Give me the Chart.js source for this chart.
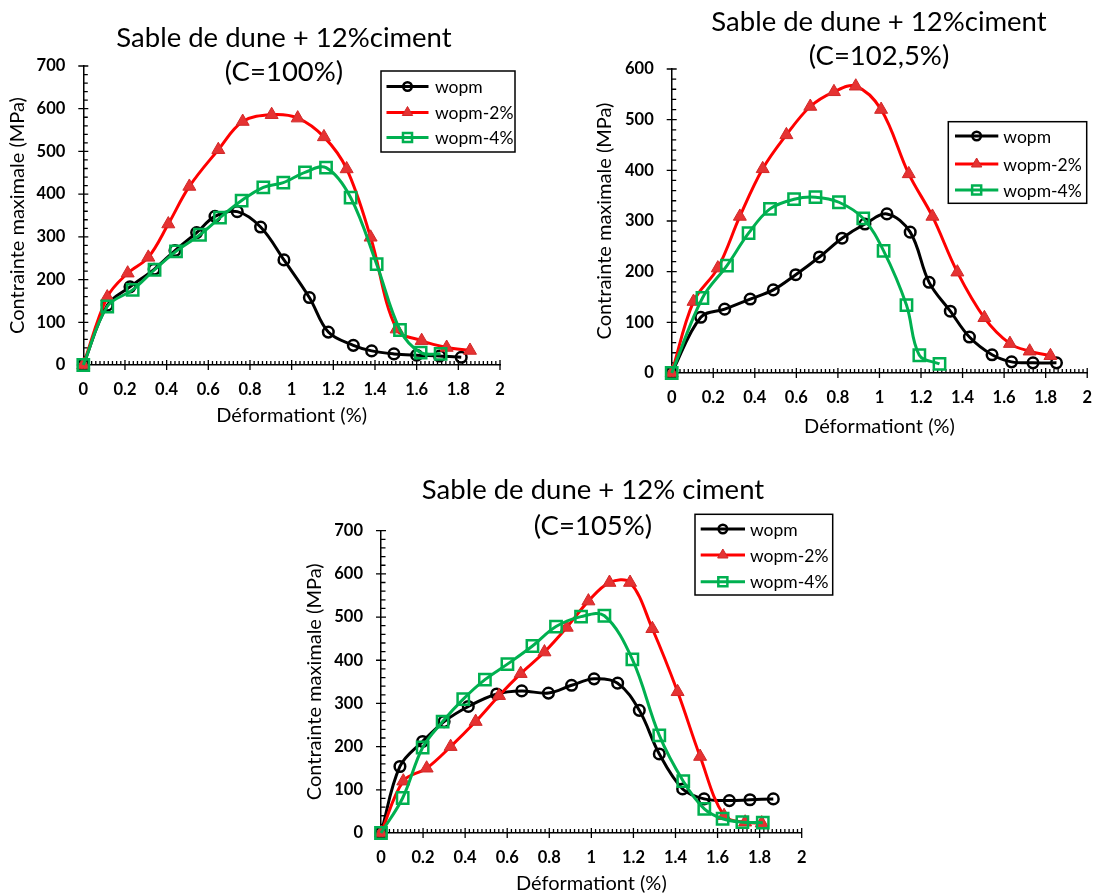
<!DOCTYPE html>
<html><head><meta charset="utf-8">
<script src="https://cdn.jsdelivr.net/npm/chart.js@4.4.0/dist/chart.umd.min.js"></script>
<style>
html,body{margin:0;padding:0;background:#fff;width:1107px;height:896px;overflow:hidden;}
canvas{position:absolute;display:block;}
</style></head><body>
<canvas id="c1" width="553" height="428" style="left:0px;top:0px"></canvas>
<canvas id="c2" width="554" height="439" style="left:553px;top:0px"></canvas>
<canvas id="c3" width="560" height="456" style="left:290px;top:440px"></canvas>
<script>
// ---------- shared labels ----------
const seriesNames = ['wopm', 'wopm-2%', 'wopm-4%'];
const xTitle = 'Déformationt (%)';
const yTitle = 'Contrainte maximale (MPa)';
const xTickValues = [0, 0.2, 0.4, 0.6, 0.8, 1, 1.2, 1.4, 1.6, 1.8, 2];
const xTickLabels = ['0', '0.2', '0.4', '0.6', '0.8', '1', '1.2', '1.4', '1.6', '1.8', '2'];
const yTicks700 = [0, 100, 200, 300, 400, 500, 600, 700];
const yTicks600 = [0, 100, 200, 300, 400, 500, 600];

const title1 = ['Sable de dune + 12%ciment', '(C=100%)'];
const title2 = ['Sable de dune + 12%ciment', '(C=102,5%)'];
const title3 = ['Sable de dune + 12% ciment', '(C=105%)'];

// ---------- chart 1 (C=100%) ----------
const c1WopmX  = [0, 0.115, 0.224, 0.34, 0.44, 0.544, 0.632, 0.739, 0.851, 0.963, 1.085, 1.176, 1.296, 1.384, 1.491, 1.6, 1.71, 1.814];
const c1WopmY  = [0, 140, 183, 224, 268, 310, 348, 359, 323, 246, 158, 77, 46, 33, 26, 23, 21, 18];
const c1Wopm2X = [0, 0.115, 0.213, 0.312, 0.408, 0.509, 0.648, 0.765, 0.904, 1.029, 1.155, 1.264, 1.379, 1.504, 1.624, 1.744, 1.856];
const c1Wopm2Y = [0, 159, 215, 252, 330, 418, 504, 570, 586, 578, 534, 459, 299, 84, 57, 41, 34];
const c1Wopm4X = [0, 0.115, 0.237, 0.342, 0.445, 0.56, 0.656, 0.76, 0.864, 0.96, 1.064, 1.165, 1.283, 1.408, 1.52, 1.619, 1.715];
const c1Wopm4Y = [0, 137, 176, 223, 266, 305, 345, 385, 416, 427, 451, 462, 392, 236, 82, 29, 26];

// ---------- chart 2 (C=102,5%) ----------
const c2WopmX  = [0, 0.14, 0.255, 0.378, 0.489, 0.597, 0.711, 0.82, 0.93, 1.036, 1.148, 1.239, 1.341, 1.433, 1.542, 1.636, 1.739, 1.852];
const c2WopmY  = [0, 110, 126, 146, 164, 194, 229, 266, 294, 314, 278, 179, 122, 71, 36, 22, 20, 20];
const c2Wopm2X = [0, 0.105, 0.222, 0.328, 0.438, 0.552, 0.667, 0.781, 0.886, 1.008, 1.141, 1.255, 1.375, 1.505, 1.628, 1.723, 1.823];
const c2Wopm2Y = [0, 141, 207, 309, 403, 470, 526, 555, 566, 520, 393, 309, 199, 109, 58, 43, 34];
const c2Wopm4X = [0, 0.148, 0.266, 0.37, 0.473, 0.589, 0.692, 0.805, 0.922, 1.02, 1.13, 1.192, 1.289];
const c2Wopm4Y = [0, 148, 212, 276, 324, 343, 347, 337, 305, 241, 134, 35, 18];

// ---------- chart 3 (C=105%) ----------
const c3WopmX  = [0, 0.09, 0.198, 0.3, 0.415, 0.55, 0.669, 0.796, 0.906, 1.013, 1.125, 1.228, 1.323, 1.434, 1.536, 1.656, 1.754, 1.865];
const c3WopmY  = [0, 154, 212, 258, 293, 322, 329, 324, 342, 357, 347, 284, 183, 102, 79, 75, 77, 79];
const c3Wopm2X = [0, 0.106, 0.217, 0.331, 0.45, 0.561, 0.664, 0.777, 0.883, 0.986, 1.086, 1.184, 1.29, 1.41, 1.517, 1.631, 1.731, 1.81];
const c3Wopm2Y = [0, 120, 150, 200, 258, 318, 369, 419, 476, 537, 580, 580, 473, 327, 177, 40, 25, 23];
const c3Wopm4X = [0, 0.103, 0.198, 0.293, 0.391, 0.494, 0.601, 0.72, 0.832, 0.951, 1.062, 1.195, 1.323, 1.437, 1.537, 1.624, 1.718, 1.815];
const c3Wopm4Y = [0, 81, 198, 258, 310, 355, 391, 433, 478, 501, 503, 402, 226, 120, 56, 33, 25, 24];

// ---------- styling ----------
const FONT = 'Lato';
const STYLES = [
  {borderColor: '#000000', pointStyle: 'circle', pointRadius: 5.3, pointBackgroundColor: 'rgba(0,0,0,0)', pointBorderColor: '#000000', pointBorderWidth: 2.5, order: 3},
  {borderColor: '#FF0000', pointStyle: 'triangle', pointRadius: 7.5, pointBackgroundColor: '#E63232', pointBorderColor: '#D02828', pointBorderWidth: 1, order: 2},
  {borderColor: '#00B050', pointStyle: 'rect', pointRadius: 8, pointBackgroundColor: 'rgba(0,0,0,0)', pointBorderColor: '#00B050', pointBorderWidth: 2.5, order: 1}
];

function pts(xs, ys) { return xs.map((x, i) => ({x: x, y: ys[i]})); }

function makeDatasets(series) {
  return series.map((s, i) => Object.assign({
    label: seriesNames[i],
    data: pts(s[0], s[1]),
    showLine: true,
    borderWidth: 3,
    tension: 0.36,
    clip: false
  }, STYLES[i]));
}

// minor / major tick marks on both axes
const axisTicks = {
  id: 'axisTicks',
  beforeDatasetsDraw(chart) {
    const xs = chart.scales.x, ys = chart.scales.y, ctx = chart.ctx;
    const yb = ys.getPixelForValue(0), xl = xs.getPixelForValue(0);
    ctx.save();
    ctx.strokeStyle = '#000';
    ctx.lineWidth = 1.3;
    ctx.beginPath();
    for (let i = 0; i <= 100; i++) {
      const px = xs.getPixelForValue(i * 0.02);
      if (i % 10 === 0) { ctx.moveTo(px, yb - 5); ctx.lineTo(px, yb + 5); }
      else { ctx.moveTo(px, yb - 4); ctx.lineTo(px, yb); }
    }
    const ymax = ys.max;
    for (let v = 0; v <= ymax + 0.001; v += 20) {
      const py = ys.getPixelForValue(v);
      if (Math.round(v) % 100 === 0) { ctx.moveTo(xl - 5, py); ctx.lineTo(xl + 5, py); }
      else { ctx.moveTo(xl, py); ctx.lineTo(xl + 4.5, py); }
    }
    ctx.stroke();
    ctx.restore();
  }
};

// boxed legend floating inside the plot
const boxLegend = {
  id: 'boxLegend',
  afterDraw(chart, args, o) {
    const ctx = chart.ctx;
    ctx.save();
    ctx.fillStyle = '#fff';
    ctx.fillRect(o.x, o.y, o.w, o.h);
    ctx.lineWidth = 1.5;
    ctx.strokeStyle = '#000';
    ctx.strokeRect(o.x, o.y, o.w, o.h);
    chart.data.datasets.forEach((ds, i) => {
      const yy = o.y + o.rows[i];
      ctx.strokeStyle = ds.borderColor;
      ctx.lineWidth = 3;
      ctx.beginPath();
      ctx.moveTo(o.x + o.l0, yy);
      ctx.lineTo(o.x + o.l1, yy);
      ctx.stroke();
      ctx.fillStyle = ds.pointBackgroundColor;
      ctx.strokeStyle = ds.pointBorderColor;
      ctx.lineWidth = ds.pointBorderWidth;
      Chart.helpers.drawPoint(ctx, {pointStyle: ds.pointStyle, radius: ds.pointRadius * 0.8, borderWidth: ds.pointBorderWidth, rotation: 0}, o.x + (o.l0 + o.l1) / 2, yy);
      ctx.fillStyle = '#000';
      ctx.font = o.size + 'px ' + FONT;
      ctx.textAlign = 'left';
      ctx.textBaseline = 'middle';
      ctx.fillText(ds.label, o.x + o.tx, yy + 1);
    });
    ctx.restore();
  }
};

// two-line heading
const titleLines = {
  id: 'titleLines',
  afterDraw(chart, args, o) {
    const ctx = chart.ctx;
    ctx.save();
    ctx.fillStyle = '#000';
    ctx.font = o.size + 'px ' + FONT;
    ctx.textAlign = 'center';
    ctx.textBaseline = 'middle';
    o.lines.forEach((t, i) => ctx.fillText(t, o.x, o.ys[i]));
    ctx.restore();
  }
};

function makeChart(cfg) {
  const yTicks = cfg.yTicks;
  new Chart(document.getElementById(cfg.id), {
    type: 'scatter',
    data: {datasets: makeDatasets(cfg.series)},
    plugins: [axisTicks, boxLegend, titleLines],
    options: {
      responsive: false,
      animation: false,
      events: [],
      layout: {padding: cfg.pad},
      plugins: {
        legend: {display: false},
        tooltip: {enabled: false},
        title: {display: false},
        boxLegend: cfg.legend,
        titleLines: cfg.title
      },
      scales: {
        x: {
          type: 'linear', min: 0, max: 2,
          afterBuildTicks: s => { s.ticks = xTickValues.map(v => ({value: v})); },
          afterFit: s => { s.height = cfg.xh; },
          grid: {display: false, drawTicks: false},
          border: {display: true, color: '#000', width: 1.5},
          ticks: {padding: 15, color: '#000', autoSkip: false, maxRotation: 0,
                  font: {family: FONT, size: 16.5, weight: 'bold'},
                  callback: (v, i) => xTickLabels[i]},
          title: {display: true, text: xTitle, color: '#000', padding: 0, font: {family: FONT, size: 20}}
        },
        y: {
          type: 'linear', min: 0, max: yTicks[yTicks.length - 1],
          afterBuildTicks: s => { s.ticks = yTicks.map(v => ({value: v})); },
          afterFit: s => { s.width = cfg.yw; },
          grid: {display: false, drawTicks: false},
          border: {display: true, color: '#000', width: 1.5},
          ticks: {padding: 18, color: '#000', autoSkip: false,
                  font: {family: FONT, size: 16.5, weight: 'bold'},
                  callback: (v, i) => String(yTicks[i])},
          title: {display: true, text: yTitle, color: '#000', padding: 0, font: {family: FONT, size: 20}}
        }
      }
    }
  });
}

makeChart({
  id: 'c1', yTicks: yTicks700,
  series: [[c1WopmX, c1WopmY], [c1Wopm2X, c1Wopm2Y], [c1Wopm4X, c1Wopm4Y]],
  pad: {top: 66, right: 53, bottom: 0, left: 6}, yw: 77.3, xh: 63,
  legend: {x: 381, y: 71, w: 134, h: 81, rows: [15.5, 41.5, 66.5], l0: 5.5, l1: 47.5, tx: 54, size: 17.5},
  title: {lines: title1, x: 284, ys: [38, 72], size: 27.5}
});
makeChart({
  id: 'c2', yTicks: yTicks600,
  series: [[c2WopmX, c2WopmY], [c2Wopm2X, c2Wopm2Y], [c2Wopm4X, c2Wopm4Y]],
  pad: {top: 69, right: 9, bottom: 0, left: 40}, yw: 78.7, xh: 66,
  legend: {x: 395.3, y: 121.7, w: 138.4, h: 81.6, rows: [14.3, 42.3, 68.3], l0: 6.7, l1: 50, tx: 55, size: 17.5},
  title: {lines: title2, x: 326, ys: [22, 56], size: 27.5}
});
makeChart({
  id: 'c3', yTicks: yTicks700,
  series: [[c3WopmX, c3WopmY], [c3Wopm2X, c3Wopm2Y], [c3Wopm4X, c3Wopm4Y]],
  pad: {top: 90.7, right: 48.3, bottom: 0, left: 13}, yw: 78, xh: 63,
  legend: {x: 405, y: 74.3, w: 137.7, h: 80.7, rows: [14.7, 40.7, 67.4], l0: 5.7, l1: 50, tx: 55, size: 17.5},
  title: {lines: title3, x: 303, ys: [50, 86], size: 27.5}
});
</script>
</body></html>
